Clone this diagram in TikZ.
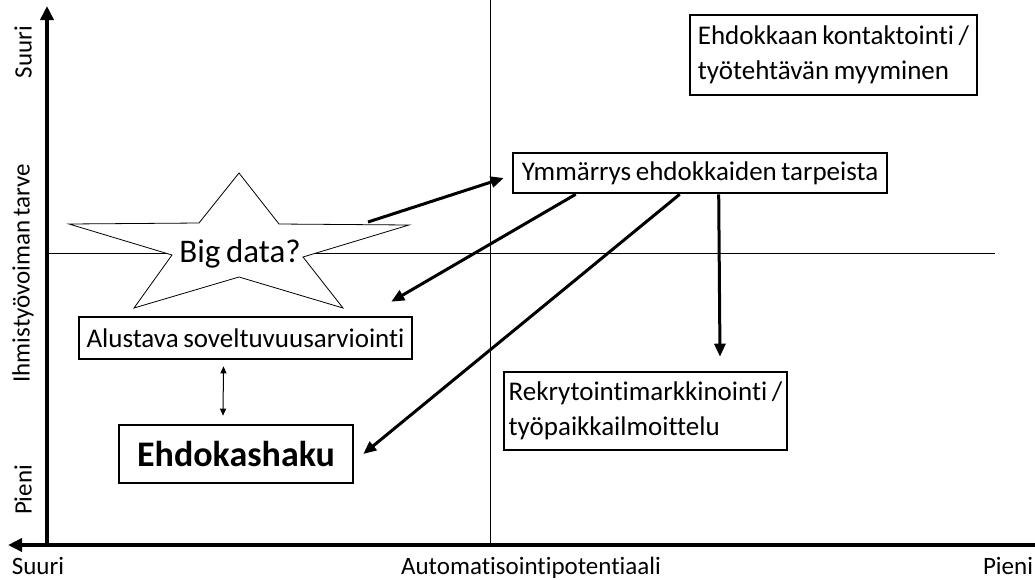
\documentclass[tikz,border=0pt]{standalone}
\usepackage{fontspec}
\setmainfont[Ligatures=NoCommon,WordSpace=0.75]{Carlito}
\usetikzlibrary{arrows.meta,calc}

\tikzset{
  px/.style={x=1pt,y=-1pt},
  box/.style={draw,line width=2.6pt,inner sep=0pt,fill=white},
  conn/.style={line width=3pt,-{Triangle[length=13pt,width=11pt]}},
  axis/.style={line width=4pt,-{Triangle[length=14pt,width=13pt]}},
  guide/.style={line width=0.8pt},
  lbl/.style={font=\fontsize{25}{28}\selectfont,inner sep=0pt},
  boxtxt/.style={font=\fontsize{27}{35}\selectfont},
}

\begin{document}
\begin{tikzpicture}[px]
\useasboundingbox (0,0) rectangle (1035,579);

% quadrant guide lines
\draw[guide] (490,0) -- (490,545);
\draw[guide] (47,253) -- (995,253);

% axes
\coordinate (yfrom) at (47,545);
\coordinate (yto) at (47,6);
\coordinate (xfrom) at (1035,545);
\coordinate (xto) at (8,545);
\draw[axis] (yfrom) -- (yto);
\draw[axis] (xfrom) -- (xto);

% axis labels
\node[lbl,rotate=90] (ysuuri) at (23,52) {Suuri};
\node[lbl,rotate=90] (yname) at (23,273) {Ihmistyövoiman tarve};
\node[lbl,rotate=90] (ypieni) at (23,490) {Pieni};
\node[lbl,anchor=base] (xsuuri) at (38,574) {Suuri};
\node[lbl,anchor=base] (xname) at (531,574) {Automatisointipotentiaali};
\node[lbl,anchor=base] (xpieni) at (1008,574) {Pieni};

% star
\draw[line width=0.8pt,fill=white]
  (239,173) -- (279,224) -- (409,225) -- (303,257) -- (343,308)
  -- (239,277) -- (134,308) -- (172,255) -- (69,224) -- (199,223) -- cycle;
\node[font=\fontsize{33}{36}\selectfont] (big) at (240,254) {Big data?};

% boxes
\node[box,boxtxt,minimum width=374pt,minimum height=40pt] (ymm) at (700,173) {Ymmärrys ehdokkaiden tarpeista};
\node[box,boxtxt,minimum width=287pt,minimum height=80pt,align=left] (kontakt) at (833.5,55)
  {Ehdokkaan kontaktointi /\\työtehtävän myyminen};
\node[box,boxtxt,minimum width=283pt,minimum height=78pt,align=left] (rekry) at (645.5,411)
  {Rekrytointimarkkinointi /\\työpaikkailmoittelu};
\node[box,boxtxt,minimum width=333pt,minimum height=42pt] (alust) at (245.5,338) {Alustava soveltuvuusarviointi};
\node[box,minimum width=234pt,minimum height=58pt,font=\fontsize{36}{40}\selectfont\bfseries] (haku) at (236,454) {Ehdokashaku};

% connectors
\coordinate (starR) at (368,222);
\draw[conn] (starR) -- ($(ymm.west)+(-8,5)$);
\draw[conn] ($(ymm.south west)+(64,0)$) -- ($(alust.north east)+(-22,-14)$);
\draw[conn] ($(ymm.south west)+(168,0)$) -- ($(haku.east)+(9,0)$);
\draw[conn] ($(ymm.south west)+(207,0)$) -- ($(rekry.north)+(74.5,-14)$);
\draw[line width=1pt,{Triangle[length=7pt,width=6pt]}-{Triangle[length=7pt,width=6pt]}]
  ($(alust.south)+(-22,6)$) -- ($(haku.north)+(-13,-8)$);
\end{tikzpicture}
\end{document}
